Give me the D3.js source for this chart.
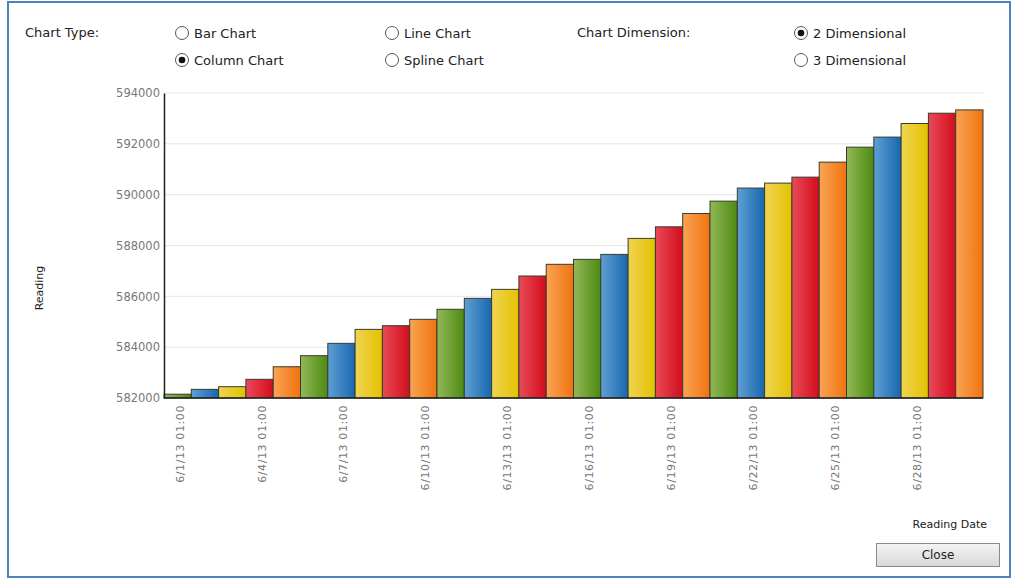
<!DOCTYPE html>
<html>
<head>
<meta charset="utf-8">
<script src="https://cdn.jsdelivr.net/npm/d3@7"></script>
<style>
  body { margin: 0; background: #fff; }
  svg { display: block; font-family: "DejaVu Sans", Verdana, sans-serif; }
</style>
</head>
<body>
<svg id="chart" width="1013" height="579"></svg>
<script>
// one reading per day, June 2013
const days = d3.range(1, 31).map(d => `6/${d}/13 01:00`);
const readings = [
  582150, 582340, 582445, 582735, 583230, 583665, 584150, 584700, 584845, 585095,
  585490, 585920, 586275, 586800, 587260, 587455, 587650, 588280, 588735, 589260,
  589745, 590260, 590455, 590690, 591280, 591870, 592265, 592800, 593205, 593335
];
const yTicks = [582000, 584000, 586000, 588000, 590000, 592000, 594000];
const palette = [
  { id: "green", light: "#93b857", dark: "#4c8a12" },
  { id: "blue", light: "#5fa0d2", dark: "#1767b0" },
  { id: "yellow", light: "#efd452", dark: "#e3c200" },
  { id: "red", light: "#e84a58", dark: "#d30d1c" },
  { id: "orange", light: "#f9a455", dark: "#f0730f" }
];
const typeOptions = [
  { label: "Bar Chart", x: 182, y: 33, on: false },
  { label: "Column Chart", x: 182, y: 60, on: true },
  { label: "Line Chart", x: 392, y: 33, on: false },
  { label: "Spline Chart", x: 392, y: 60, on: false },
  { label: "2 Dimensional", x: 801, y: 33, on: true },
  { label: "3 Dimensional", x: 801, y: 60, on: false }
];

const svg = d3.select("#chart");
const margin = { left: 164, right: 983, top: 93, bottom: 398 };

const x = d3.scaleBand()
  .domain(days)
  .range([margin.left, margin.right])
  .padding(0);

const y = d3.scaleLinear()
  .domain([582000, 594000])
  .range([margin.bottom, margin.top]);

const defs = svg.append("defs");

palette.forEach(p => {
  const g = defs.append("linearGradient")
    .attr("id", `grad_${p.id}`)
    .attr("x1", 0).attr("x2", 1).attr("y1", 0).attr("y2", 0);
  g.append("stop").attr("offset", "0%").attr("stop-color", p.light);
  g.append("stop").attr("offset", "100%").attr("stop-color", p.dark);
});

const btn = defs.append("linearGradient")
  .attr("id", "grad_btn")
  .attr("x1", 0).attr("x2", 0).attr("y1", 0).attr("y2", 1);
btn.append("stop").attr("offset", "0%").attr("stop-color", "#f4f4f4");
btn.append("stop").attr("offset", "100%").attr("stop-color", "#d8d8d8");

// outer frame
svg.append("rect")
  .attr("x", 8).attr("y", 2)
  .attr("width", 1002).attr("height", 575)
  .attr("fill", "#fff")
  .attr("stroke", "#4f81bd")
  .attr("stroke-width", 2);

// header controls
svg.append("text")
  .attr("x", 25).attr("y", 37)
  .attr("font-size", 13)
  .attr("fill", "#222")
  .text("Chart Type:");

svg.append("text")
  .attr("x", 577).attr("y", 37)
  .attr("font-size", 13)
  .attr("fill", "#222")
  .text("Chart Dimension:");

const radio = svg.selectAll(".radio")
  .data(typeOptions)
  .enter()
  .append("g")
  .attr("class", "radio");

radio.append("circle")
  .attr("cx", d => d.x)
  .attr("cy", d => d.y)
  .attr("r", 6.5)
  .attr("fill", "#fff")
  .attr("stroke", "#555");

radio.filter(d => d.on)
  .append("circle")
  .attr("cx", d => d.x)
  .attr("cy", d => d.y)
  .attr("r", 3.3)
  .attr("fill", "#111");

radio.append("text")
  .attr("x", d => d.x + 12)
  .attr("y", d => d.y + 4.5)
  .attr("font-size", 13)
  .attr("fill", "#222")
  .text(d => d.label);

// grid
svg.append("g")
  .selectAll("line")
  .data(yTicks.slice(1))
  .enter()
  .append("line")
  .attr("x1", margin.left)
  .attr("x2", margin.right)
  .attr("y1", d => y(d))
  .attr("y2", d => y(d))
  .attr("stroke", "#e6e6e6");

// bars
svg.append("g")
  .selectAll("rect")
  .data(readings)
  .enter()
  .append("rect")
  .attr("x", (d, i) => x(days[i]))
  .attr("y", d => y(d))
  .attr("width", x.bandwidth())
  .attr("height", d => y(582000) - y(d))
  .attr("fill", (d, i) => `url(#grad_${palette[i % 5].id})`)
  .attr("stroke", "#3a3a30")
  .attr("stroke-width", 1);

// y axis
const yAxis = svg.append("g")
  .attr("transform", `translate(${margin.left},0)`)
  .call(d3.axisLeft(y).tickValues(yTicks).tickFormat(d3.format("d")).tickSize(0).tickPadding(4));
yAxis.select(".domain").attr("stroke", "#222").attr("stroke-width", 1.5);
yAxis.selectAll("text")
  .attr("font-size", 11.5)
  .attr("font-family", "\"DejaVu Sans\", Verdana, sans-serif")
  .attr("fill", "#777");

// x axis
svg.append("line")
  .attr("x1", margin.left)
  .attr("x2", margin.right)
  .attr("y1", margin.bottom)
  .attr("y2", margin.bottom)
  .attr("stroke", "#222")
  .attr("stroke-width", 1.5);

svg.append("g")
  .selectAll("text")
  .data(days.filter((d, i) => i % 3 === 0))
  .enter()
  .append("text")
  .attr("transform", d => `translate(${x(d) + x.bandwidth() / 2 + 6},405) rotate(-90)`)
  .attr("text-anchor", "end")
  .attr("font-size", 11)
  .attr("letter-spacing", 0.6)
  .attr("fill", "#777")
  .text(d => d);

// axis titles
svg.append("text")
  .attr("transform", "translate(43,288) rotate(-90)")
  .attr("text-anchor", "middle")
  .attr("font-size", 11)
  .attr("fill", "#222")
  .text("Reading");

svg.append("text")
  .attr("x", 987).attr("y", 528)
  .attr("text-anchor", "end")
  .attr("font-size", 11)
  .attr("fill", "#222")
  .text("Reading Date");

// close button
svg.append("rect")
  .attr("x", 876.5).attr("y", 543.5)
  .attr("width", 123).attr("height", 23)
  .attr("fill", "url(#grad_btn)")
  .attr("stroke", "#8a8a8a");

svg.append("text")
  .attr("x", 938).attr("y", 559)
  .attr("text-anchor", "middle")
  .attr("font-size", 12)
  .attr("fill", "#222")
  .text("Close");
</script>
</body>
</html>
